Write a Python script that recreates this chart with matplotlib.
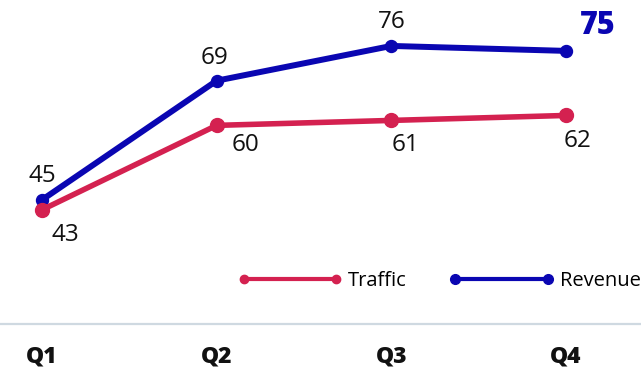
import matplotlib
matplotlib.use("Agg")
from matplotlib import pyplot as plt
from matplotlib.lines import Line2D

quarters = ["Q1", "Q2", "Q3", "Q4"]
traffic = [43, 60, 61, 62]
revenue = [45, 69, 76, 75]

# label offsets in pixels (dx, dy)
traffic_offsets = [(23, -25), (29, -20), (14, -25), (12, -26)]
revenue_offsets = [(0, 24), (-2, 23), (0, 24), (32, 25)]

RED = "#D42150"
BLUE = "#0A06B2"

plt.rcParams["font.family"] = ["Open Sans", "DejaVu Sans"]

fig = plt.figure(figsize=(6.41, 3.72), dpi=100)
ax = fig.add_axes([0, 48 / 372, 1, 324 / 372])

x = list(range(len(quarters)))
ax.plot(x, revenue, color=BLUE, lw=4.3, marker="o", ms=8.6, zorder=3)
ax.plot(x, traffic, color=RED, lw=4.0, marker="o", ms=10, zorder=4)

for i, v in enumerate(traffic):
    ax.annotate(str(v), (i, v), xytext=traffic_offsets[i], textcoords="offset pixels",
                ha="center", va="center", fontsize=17.5, color="#111111")
for i, v in enumerate(revenue):
    if i == len(revenue) - 1:
        ax.annotate(str(v), (i, v), xytext=revenue_offsets[i], textcoords="offset pixels",
                    ha="center", va="center", fontsize=22, fontweight="heavy", color=BLUE)
    else:
        ax.annotate(str(v), (i, v), xytext=revenue_offsets[i], textcoords="offset pixels",
                    ha="center", va="center", fontsize=17.5, color="#111111")

ax.set_xlim(-42 / 174.67, 3 + 75 / 174.67)
ax.set_ylim(20, 85.25)
ax.set_xticks(x)
ax.set_xticklabels(quarters, fontsize=16.5, fontweight="heavy", color="#111111")
ax.tick_params(axis="x", length=0, pad=15)
ax.set_yticks([])
for side in ["top", "left", "right"]:
    ax.spines[side].set_visible(False)
ax.spines["bottom"].set_color("#CFD9E1")
ax.spines["bottom"].set_linewidth(1.6)

handles = [
    Line2D([], [], color=RED, lw=3, marker="o", ms=6),
    Line2D([], [], color=BLUE, lw=3, marker="o", ms=7),
]
fig.legend(handles, ["Traffic", "Revenue"], loc="center right",
           bbox_to_anchor=(1.0, 1 - 281 / 372), ncol=2, frameon=False,
           fontsize=14.5, handlelength=5.2, handletextpad=0.3, columnspacing=2.1,
           numpoints=2, borderaxespad=0, borderpad=0)

fig.savefig("out.png", dpi=100)
